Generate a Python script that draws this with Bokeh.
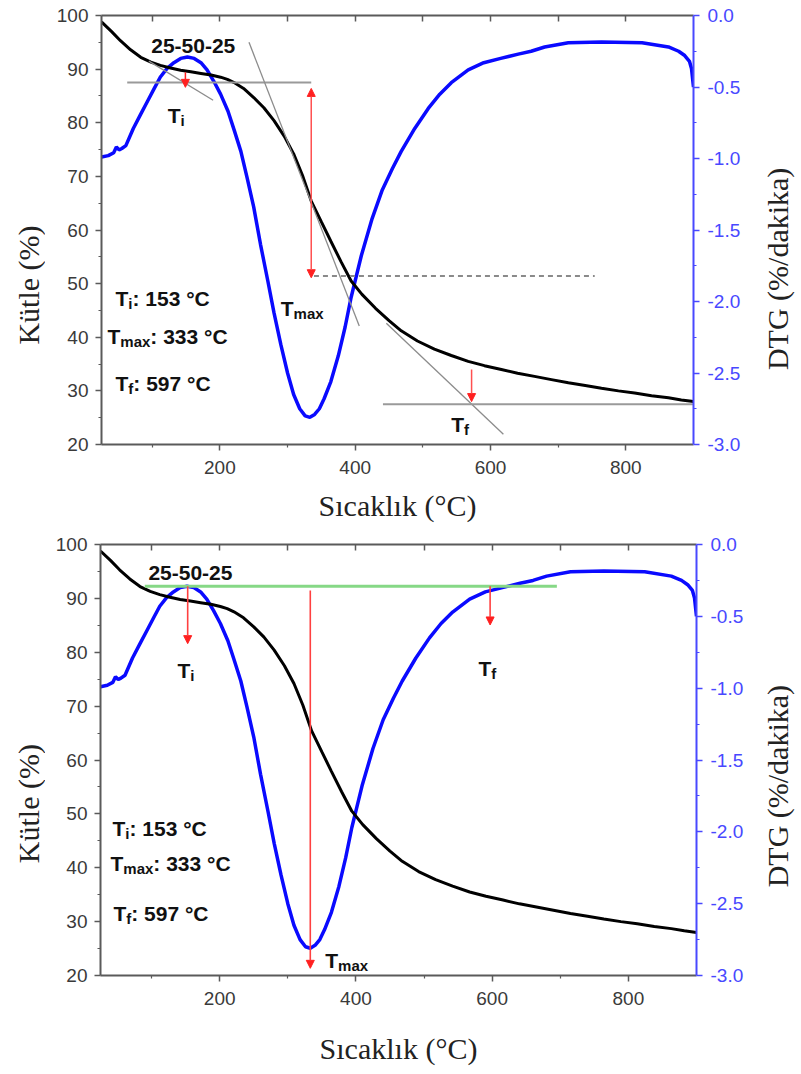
import math
from bokeh.plotting import figure
from bokeh.models import (Range1d, LinearAxis, FixedTicker, NumeralTickFormatter,
                          Label, Arrow, NormalHead)
from bokeh.layouts import column, row
from bokeh.embed import file_html
from bokeh.resources import INLINE

# --- TG curve: mass (%) vs temperature (°C) ---
temp_tg = [25, 40, 53, 68, 83, 98, 112, 127, 142, 157, 172, 187, 201, 211, 221, 235,
           250, 265, 280, 295, 309, 322, 335, 350, 364, 379, 394, 410, 430, 450, 468,
           492, 517, 542, 567, 591, 616, 640, 665, 690, 715, 740, 764, 789, 813, 838,
           863, 882, 900]
mass = [98.8, 97.0, 95.3, 93.6, 92.2, 91.3, 90.7, 90.2, 89.8, 89.5, 89.2, 88.9, 88.5,
        88.1, 87.5, 86.4, 84.7, 82.8, 80.4, 77.5, 74.2, 70.2, 65.4, 61.5, 57.9, 54.1,
        50.5, 48.0, 45.4, 43.1, 41.2, 39.3, 37.8, 36.6, 35.5, 34.7, 34.0, 33.3, 32.7,
        32.1, 31.5, 31.0, 30.5, 30.0, 29.6, 29.1, 28.7, 28.3, 28.0]

# --- DTG curve: %/dakika vs temperature (°C) ---
temp_dtg = [25, 35, 43, 47, 51, 55, 61, 72, 83, 93, 103, 112, 122, 132, 142, 152, 162,
            172, 181, 191, 201, 212, 221, 231, 240, 250, 260, 271, 280, 290, 300, 309,
            318, 326, 333, 340, 347, 354, 364, 375, 385, 394, 409, 425, 440, 455, 468,
            488, 508, 525, 542, 567, 590, 615, 641, 660, 680, 715, 764, 824, 863, 878,
            887, 894, 897, 900]
dtg = [-0.99, -0.98, -0.96, -0.92, -0.94, -0.93, -0.91, -0.79, -0.69, -0.60, -0.51,
       -0.43, -0.37, -0.33, -0.30, -0.29, -0.30, -0.33, -0.38, -0.46, -0.55, -0.67,
       -0.80, -0.95, -1.13, -1.34, -1.60, -1.86, -2.08, -2.30, -2.50, -2.65, -2.75,
       -2.80, -2.81, -2.79, -2.75, -2.68, -2.56, -2.38, -2.18, -1.97, -1.68, -1.42,
       -1.22, -1.07, -0.95, -0.79, -0.65, -0.55, -0.47, -0.38, -0.33, -0.30, -0.27,
       -0.25, -0.22, -0.19, -0.185, -0.19, -0.22, -0.25, -0.28, -0.32, -0.37, -0.50]

# characteristic temperatures (°C)
T_I, T_MAX, T_F = 153, 333, 597
sample_name = "25-50-25"

# tangent construction on the TG curve (upper chart)
onset_base_x, onset_base_y = [63, 335], [87.5, 87.5]
onset_tan_x, onset_tan_y = [95, 190], [91.5, 84.2]
mid_tan_x, mid_tan_y = [243, 406], [95.0, 42.1]
mid_level_x, mid_level_y = [339, 754], [51.4, 51.4]
end_tan_x, end_tan_y = [446, 619], [42.6, 21.9]
end_base_x, end_base_y = [441, 900], [27.5, 27.5]
onset_mark = (149, 89.4, 86.6)     # x, from, to (mass %)
span_mark = (335, 86.4, 51.1)
end_mark = (572, 34.0, 28.0)

# DTG construction (lower chart)
peak_level_x, peak_level_y = [90, 695], [-0.29, -0.29]
dtg_marks = [(T_I, -0.29, -0.69), (T_MAX, -0.32, -2.95), (T_F, -0.29, -0.56)]

mass_ticks = [20, 30, 40, 50, 60, 70, 80, 90, 100]
mass_minor = [25, 35, 45, 55, 65, 75, 85, 95]
temp_ticks = [200, 400, 600, 800]
temp_minor = [100, 300, 500, 700]
dtg_ticks = [-3.0, -2.5, -2.0, -1.5, -1.0, -0.5, 0.0]
dtg_minor = [-2.75, -2.25, -1.75, -1.25, -0.75, -0.25]

SANS = "Liberation Sans"
SERIF = "Liberation Serif"
AXIS_GREY = "#5a5a5a"
TICK_TEXT = "#3a3a3a"
TITLE_TEXT = "#222222"
BLUE_AXIS = "#4848ff"
RED = "#ff2020"

STRIP_L, STRIP_R = 45, 45

# Arial-bold advance widths (em) used to lay out subscripted labels
BOLD_W = {"T": 0.611, "i": 0.278, "f": 0.333, "m": 0.889, "a": 0.556, "x": 0.556}


def style_axis(ax, color, text_color):
    ax.axis_line_color = color
    ax.axis_line_width = 2
    ax.major_tick_line_color = color
    ax.minor_tick_line_color = color
    ax.major_tick_line_width = 1.5
    ax.minor_tick_line_width = 1.2
    ax.major_tick_out = 6
    ax.major_tick_in = 0
    ax.minor_tick_out = 3
    ax.minor_tick_in = 0
    ax.major_label_text_font = SANS
    ax.major_label_text_font_size = "19px"
    ax.major_label_text_color = text_color


def t_label(p, x, y, sub, rest="", size=21, sub_size=15, y_range_name="default"):
    common = dict(x=x, y=y, y_range_name=y_range_name, text_font=SANS,
                  text_font_style="bold", text_color="#111111",
                  text_baseline="alphabetic", text_align="left")
    p.add_layout(Label(text="T", text_font_size=f"{size}px", **common))
    w_t = BOLD_W["T"] * size
    p.add_layout(Label(text=sub, text_font_size=f"{sub_size}px",
                       x_offset=w_t, y_offset=-5, **common))
    if rest:
        w_sub = sum(BOLD_W[c] for c in sub) * sub_size
        p.add_layout(Label(text=rest, text_font_size=f"{size}px",
                           x_offset=w_t + w_sub, **common))


def side_strip(width, height, text, cx, cy):
    """Narrow canvas carrying one vertical axis title (pixel coordinates)."""
    s = figure(width=width, height=height, x_range=Range1d(0, width),
               y_range=Range1d(height, 0), x_axis_type=None, y_axis_type=None,
               output_backend="svg", toolbar_location=None, min_border=0)
    s.outline_line_color = None
    s.xgrid.visible = False
    s.ygrid.visible = False
    s.add_layout(Label(x=cx, y=cy, text=text, angle=math.pi / 2, text_font=SERIF,
                       text_font_size="30px", text_color=TITLE_TEXT,
                       text_align="center", text_baseline="middle"))
    return s


def make_panel(height, border_top, frame_h, frame_w, border_left, xlabel_standoff):
    width = 801 - STRIP_L - STRIP_R
    p = figure(width=width, height=height, frame_width=frame_w, frame_height=frame_h,
               x_range=Range1d(25, 900), y_range=Range1d(20, 100),
               output_backend="svg", toolbar_location=None,
               min_border_left=border_left - STRIP_L,
               min_border_right=width - (border_left - STRIP_L) - frame_w,
               min_border_top=border_top,
               min_border_bottom=height - border_top - frame_h)
    p.extra_y_ranges = {"dtg": Range1d(-3.0, 0.0)}
    p.outline_line_color = None
    p.xgrid.visible = False
    p.ygrid.visible = False
    p.background_fill_color = "white"
    p.border_fill_color = "white"

    xa = p.xaxis[0]
    xa.ticker = FixedTicker(ticks=temp_ticks, minor_ticks=temp_minor)
    style_axis(xa, AXIS_GREY, TICK_TEXT)
    xa.major_label_standoff = 10
    xa.axis_label = "Sıcaklık (°C)"
    xa.axis_label_text_font = SERIF
    xa.axis_label_text_font_style = "normal"
    xa.axis_label_text_font_size = "30px"
    xa.axis_label_text_color = TITLE_TEXT
    xa.axis_label_standoff = xlabel_standoff

    ya = p.yaxis[0]
    ya.ticker = FixedTicker(ticks=mass_ticks, minor_ticks=mass_minor)
    style_axis(ya, AXIS_GREY, TICK_TEXT)
    ya.major_label_standoff = 7

    # mirrored top edge: inward ticks only
    top = LinearAxis(ticker=FixedTicker(ticks=[], minor_ticks=temp_minor + temp_ticks))
    style_axis(top, AXIS_GREY, TICK_TEXT)
    top.major_tick_out = 0
    top.minor_tick_out = 0
    top.minor_tick_in = 6
    top.minor_tick_line_width = 1.5
    p.add_layout(top, "above")

    right = LinearAxis(y_range_name="dtg",
                       ticker=FixedTicker(ticks=dtg_ticks, minor_ticks=dtg_minor),
                       formatter=NumeralTickFormatter(format="0.0"))
    style_axis(right, BLUE_AXIS, BLUE_AXIS)
    right.major_label_standoff = 8
    p.add_layout(right, "right")

    # DTG and TG curves
    p.line(temp_dtg, dtg, y_range_name="dtg", line_color="#0a0aff", line_width=3.5)
    p.line(temp_tg, mass, line_color="black", line_width=3)
    return p


def summary(p, x_i, x_m, x_f, y_i, y_m, y_f):
    t_label(p, x_i, y_i, "i", f": {T_I} °C")
    t_label(p, x_m, y_m, "max", f": {T_MAX} °C")
    t_label(p, x_f, y_f, "f", f": {T_F} °C")


head = dict(size=8, fill_color=RED, line_color=RED)

# ---------------- upper chart: tangent method on TG ----------------
p1 = make_panel(530, 15, 429, 592, 101, 12)
grey = "#8c8c8c"
p1.line(onset_base_x, onset_base_y, line_color="#9a9a9a", line_width=2)
p1.line(onset_tan_x, onset_tan_y, line_color=grey, line_width=1.3)
p1.line(mid_tan_x, mid_tan_y, line_color=grey, line_width=1.3)
p1.line(mid_level_x, mid_level_y, line_color="#8a8a8a", line_width=2, line_dash="5 4")
p1.line(end_tan_x, end_tan_y, line_color=grey, line_width=1.3)
p1.line(end_base_x, end_base_y, line_color="#9a9a9a", line_width=2)

p1.add_layout(Arrow(x_start=onset_mark[0], y_start=onset_mark[1],
                    x_end=onset_mark[0], y_end=onset_mark[2],
                    end=NormalHead(**head), line_color=RED, line_width=1.5))
p1.add_layout(Arrow(x_start=span_mark[0], y_start=span_mark[1],
                    x_end=span_mark[0], y_end=span_mark[2],
                    start=NormalHead(**head), end=NormalHead(**head),
                    line_color="#ff5050", line_width=1.5))
p1.add_layout(Arrow(x_start=end_mark[0], y_start=end_mark[1],
                    x_end=end_mark[0], y_end=end_mark[2],
                    end=NormalHead(**head), line_color="#ff5050", line_width=1.5))

p1.add_layout(Label(x=160.6, y=94.4, text=sample_name, text_font=SANS,
                    text_font_style="bold", text_font_size="21px", text_color="#111111",
                    text_align="center", text_baseline="alphabetic"))
t_label(p1, 122.8, 81.3, "i")
t_label(p1, 290, 45.4, "max")
t_label(p1, 542, 23.7, "f")
summary(p1, 45.7, 33.9, 45.7, 47.3, 40.2, 31.4)

# ---------------- lower chart: DTG peak construction ----------------
p2 = make_panel(544, 14, 431, 596, 100, 24)
p2.line(peak_level_x, peak_level_y, y_range_name="dtg", line_color="#86d886", line_width=3)
for x0, y0, y1 in dtg_marks:
    p2.add_layout(Arrow(x_start=x0, y_start=y0, x_end=x0, y_end=y1, y_range_name="dtg",
                        end=NormalHead(**head), line_color="#ff4040", line_width=1.6))

p2.add_layout(Label(x=157, y=94.8, text=sample_name, text_font=SANS,
                    text_font_style="bold", text_font_size="21px", text_color="#111111",
                    text_align="center", text_baseline="alphabetic"))
t_label(p2, 138, 76.6, "i")
t_label(p2, 580, 77.0, "f")
t_label(p2, 355, 22.8, "max")
summary(p2, 42.6, 39.7, 44.0, 47.3, 40.8, 31.5)

top_row = row(side_strip(STRIP_L, 530, "Kütle (%)", 28, 333), p1,
              side_strip(STRIP_R, 530, "DTG (%/dakika)", 21, 313), spacing=0)
bottom_row = row(side_strip(STRIP_L, 544, "Kütle (%)", 28, 327), p2,
                 side_strip(STRIP_R, 544, "DTG (%/dakika)", 21, 305), spacing=0)
layout = column(top_row, bottom_row, spacing=0)
open("out.html", "w").write(file_html(layout, INLINE))
